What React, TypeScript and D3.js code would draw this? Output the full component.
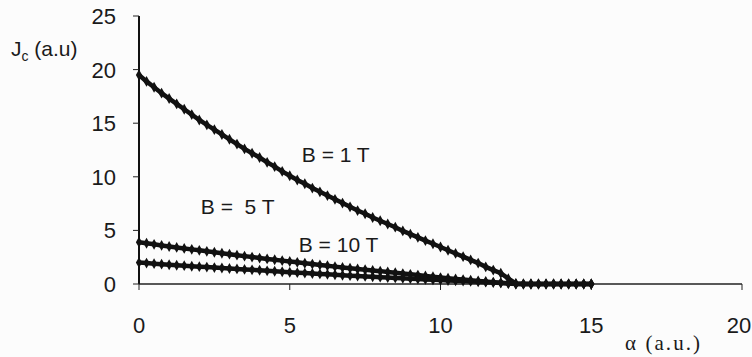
import * as React from "react";
import * as d3 from "d3";

// alpha values (a.u.), one sample every 0.25
const alpha = [
  0, 0.25, 0.5, 0.75, 1, 1.25, 1.5, 1.75, 2, 2.25, 2.5, 2.75, 3, 3.25, 3.5, 3.75,
  4, 4.25, 4.5, 4.75, 5, 5.25, 5.5, 5.75, 6, 6.25, 6.5, 6.75, 7, 7.25, 7.5, 7.75,
  8, 8.25, 8.5, 8.75, 9, 9.25, 9.5, 9.75, 10, 10.25, 10.5, 10.75, 11, 11.25, 11.5,
  11.75, 12, 12.25, 12.5, 12.75, 13, 13.25, 13.5, 13.75, 14, 14.25, 14.5, 14.75, 15,
];

const jcB1 = [
  19.5, 18.9, 18.35, 17.8, 17.3, 16.8, 16.3, 15.8, 15.3, 14.85, 14.4, 13.95, 13.5,
  13.05, 12.6, 12.2, 11.8, 11.35, 10.95, 10.5, 10.1, 9.7, 9.35, 8.95, 8.6, 8.25,
  7.9, 7.55, 7.2, 6.85, 6.55, 6.2, 5.9, 5.6, 5.3, 4.95, 4.65, 4.35, 4.05, 3.75,
  3.45, 3.15, 2.85, 2.55, 2.25, 1.95, 1.6, 1.3, 1.0, 0.5, 0.05, 0, 0, 0, 0, 0, 0,
  0, 0, 0, 0,
];

const jcB5 = [
  3.9, 3.8, 3.7, 3.6, 3.5, 3.41, 3.32, 3.23, 3.14, 3.05, 2.96, 2.87, 2.78, 2.69,
  2.6, 2.51, 2.42, 2.34, 2.26, 2.18, 2.1, 2.02, 1.94, 1.86, 1.78, 1.7, 1.62, 1.54,
  1.47, 1.4, 1.33, 1.26, 1.2, 1.12, 1.05, 0.97, 0.9, 0.83, 0.75, 0.68, 0.6, 0.54,
  0.47, 0.41, 0.35, 0.29, 0.23, 0.17, 0.12, 0.06, 0, 0, 0, 0, 0, 0, 0, 0, 0, 0, 0,
];

const jcB10 = [
  2.0, 1.95, 1.9, 1.85, 1.8, 1.75, 1.71, 1.66, 1.62, 1.58, 1.53, 1.49, 1.45, 1.41,
  1.36, 1.32, 1.28, 1.23, 1.19, 1.14, 1.1, 1.06, 1.02, 0.98, 0.94, 0.9, 0.86, 0.82,
  0.78, 0.74, 0.71, 0.67, 0.64, 0.6, 0.57, 0.53, 0.5, 0.47, 0.43, 0.4, 0.37, 0.33,
  0.3, 0.27, 0.24, 0.2, 0.17, 0.13, 0.1, 0.05, 0, 0, 0, 0, 0, 0, 0, 0, 0, 0, 0,
];

const series = [jcB1, jcB5, jcB10];
const xTicks = [0, 5, 10, 15, 20];
const yTicks = [0, 5, 10, 15, 20, 25];

const curveLabels = [
  { text: "B = 1 T", a: 5.4, j: 11.4 },
  { text: "B =  5 T", a: 2.05, j: 6.5 },
  { text: "B = 10 T", a: 5.3, j: 3.0 },
];

const W = 752;
const H = 357;
const sans = "Arial, 'Liberation Sans', sans-serif";
const serif = "'Times New Roman', 'Liberation Serif', serif";

export default function App() {
  const ref = React.useRef<SVGSVGElement>(null);

  React.useEffect(() => {
    document.body.style.margin = "0";
    const svg = d3.select(ref.current);
    svg.selectAll("*").remove();

    const x = d3.scaleLinear().domain([0, 20]).range([139, 742]);
    const y = d3.scaleLinear().domain([0, 25]).range([284, 16]);

    svg.append("rect").attr("width", W).attr("height", H).attr("fill", "#fcfcfc");

    // x axis
    const gx = svg.append("g").attr("transform", `translate(0,${y(0)})`);
    gx.append("line")
      .attr("x1", x(0))
      .attr("x2", x(20))
      .attr("stroke", "#222")
      .attr("stroke-width", 1.4);
    gx.selectAll(".xt")
      .data(xTicks)
      .enter()
      .append("line")
      .attr("x1", (d) => x(d))
      .attr("x2", (d) => x(d))
      .attr("y1", 0)
      .attr("y2", 6)
      .attr("stroke", "#222")
      .attr("stroke-width", 1);
    gx.selectAll(".xl")
      .data(xTicks)
      .enter()
      .append("text")
      .attr("x", (d) => x(d) - (d === 20 ? 3 : 0))
      .attr("y", 49)
      .attr("text-anchor", "middle")
      .attr("font-family", sans)
      .attr("font-size", 22)
      .attr("fill", "#1a1a1a")
      .text((d) => d);

    // y axis
    const gy = svg.append("g").attr("transform", `translate(${x(0)},0)`);
    gy.append("line")
      .attr("y1", y(25))
      .attr("y2", y(0))
      .attr("stroke", "#111")
      .attr("stroke-width", 2);
    gy.selectAll(".yt")
      .data(yTicks)
      .enter()
      .append("line")
      .attr("x1", -6)
      .attr("x2", 0)
      .attr("y1", (d) => y(d))
      .attr("y2", (d) => y(d))
      .attr("stroke", "#222")
      .attr("stroke-width", 1);
    gy.selectAll(".yl")
      .data(yTicks)
      .enter()
      .append("text")
      .attr("x", -23)
      .attr("y", (d) => y(d))
      .attr("dy", "0.36em")
      .attr("text-anchor", "end")
      .attr("font-family", sans)
      .attr("font-size", 22)
      .attr("fill", "#1a1a1a")
      .text((d) => d);

    // curves
    const line = d3
      .line<number>()
      .x((_, i) => x(alpha[i]))
      .y((d) => y(d));
    const symbol = d3.symbol().type(d3.symbolDiamond).size(34);

    series.forEach((values) => {
      svg.append("path")
        .attr("d", line(values))
        .attr("fill", "none")
        .attr("stroke", "#111")
        .attr("stroke-width", 4.5);
      svg.append("g")
        .selectAll("path")
        .data(values)
        .enter()
        .append("path")
        .attr("transform", (d, i) => `translate(${x(alpha[i])},${y(d)})`)
        .attr("d", symbol())
        .attr("fill", "#111");
    });

    // curve labels
    svg.selectAll(".cl")
      .data(curveLabels)
      .enter()
      .append("text")
      .attr("x", (d) => x(d.a))
      .attr("y", (d) => y(d.j))
      .attr("font-family", sans)
      .attr("font-size", 21)
      .attr("fill", "#1a1a1a")
      .attr("xml:space", "preserve")
      .style("white-space", "pre")
      .text((d) => d.text);

    // axis titles
    const yt = svg.append("text")
      .attr("x", 11)
      .attr("y", 56)
      .attr("font-family", sans)
      .attr("font-size", 21)
      .attr("fill", "#1a1a1a");
    yt.append("tspan").text("J");
    yt.append("tspan").attr("font-size", 14).attr("dy", 5).text("c");
    yt.append("tspan").attr("dy", -5).text(" (a.u)");

    svg.append("text")
      .attr("x", 625)
      .attr("y", 350)
      .attr("font-family", serif)
      .attr("font-size", 21)
      .attr("fill", "#1a1a1a")
      .attr("textLength", 75)
      .attr("lengthAdjust", "spacing")
      .text("α (a.u.)");
  }, []);

  return <svg ref={ref} width={W} height={H} style={{ display: "block" }} />;
}
